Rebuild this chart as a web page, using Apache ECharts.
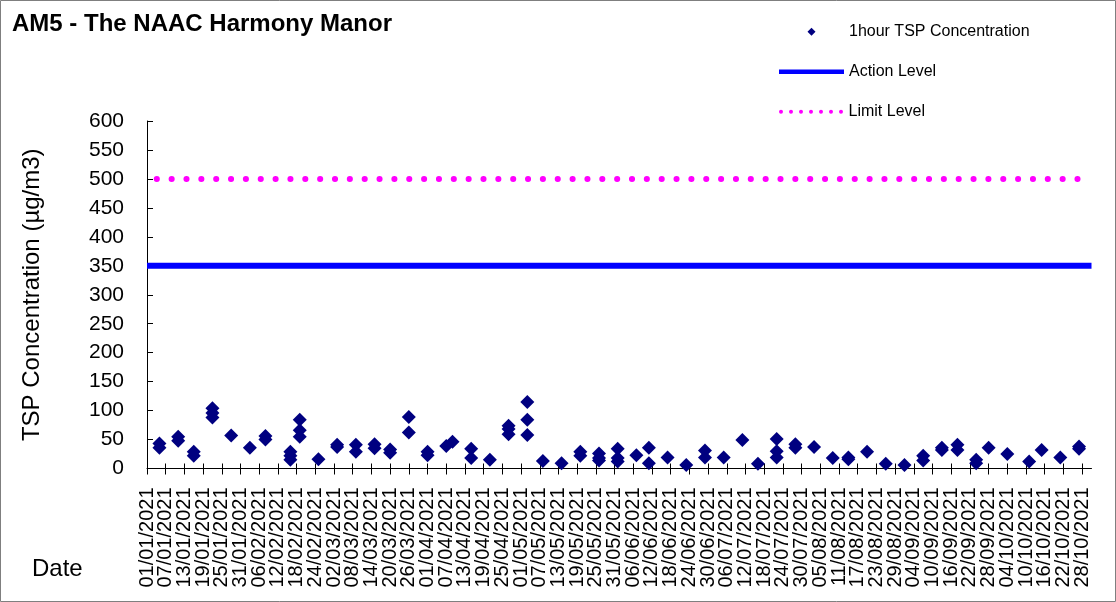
<!DOCTYPE html>
<html>
<head>
<meta charset="utf-8">
<script src="https://cdn.jsdelivr.net/npm/echarts@6/dist/echarts.min.js"></script>
<style>
html,body{margin:0;padding:0;background:#fff;}
#chart{width:1116px;height:602px;}
</style>
</head>
<body>
<div id="chart"></div>
<script>
// ---- data ----
var TITLE = 'AM5 - The NAAC Harmony Manor';
var Y_NAME = 'TSP Concentration (\u00b5g/m3)';
var X_NAME = 'Date';
var SERIES_NAMES = ['1hour TSP Concentration', 'Action Level', 'Limit Level'];
var ACTION_LEVEL = 350;
var LIMIT_LEVEL = 500;
var AXIS_MIN_DATE = '01/01/2021';
var AXIS_MAX_DATE = '31/10/2021';

var TICK_LABELS = [
  '01/01/2021','07/01/2021','13/01/2021','19/01/2021','25/01/2021','31/01/2021',
  '06/02/2021','12/02/2021','18/02/2021','24/02/2021','02/03/2021','08/03/2021',
  '14/03/2021','20/03/2021','26/03/2021','01/04/2021','07/04/2021','13/04/2021',
  '19/04/2021','25/04/2021','01/05/2021','07/05/2021','13/05/2021','19/05/2021',
  '25/05/2021','31/05/2021','06/06/2021','12/06/2021','18/06/2021','24/06/2021',
  '30/06/2021','06/07/2021','12/07/2021','18/07/2021','24/07/2021','30/07/2021',
  '05/08/2021','11/08/2021','17/08/2021','23/08/2021','29/08/2021','04/09/2021',
  '10/09/2021','16/09/2021','22/09/2021','28/09/2021','04/10/2021','10/10/2021',
  '16/10/2021','22/10/2021','28/10/2021'
];

var SAMPLE_DATES = [
  '05/01/2021','05/01/2021','11/01/2021','11/01/2021','16/01/2021','16/01/2021',
  '22/01/2021','22/01/2021','22/01/2021','28/01/2021','03/02/2021','08/02/2021','08/02/2021',
  '16/02/2021','16/02/2021','16/02/2021','19/02/2021','19/02/2021','19/02/2021','25/02/2021',
  '03/03/2021','03/03/2021','09/03/2021','09/03/2021','15/03/2021','15/03/2021',
  '20/03/2021','20/03/2021','26/03/2021','26/03/2021','01/04/2021','01/04/2021',
  '07/04/2021','09/04/2021','15/04/2021','15/04/2021','21/04/2021',
  '27/04/2021','27/04/2021','27/04/2021','03/05/2021','03/05/2021','03/05/2021',
  '08/05/2021','14/05/2021','20/05/2021','20/05/2021','26/05/2021','26/05/2021','26/05/2021',
  '01/06/2021','01/06/2021','01/06/2021','07/06/2021','11/06/2021','11/06/2021',
  '17/06/2021','23/06/2021','29/06/2021','29/06/2021','05/07/2021','11/07/2021','16/07/2021',
  '22/07/2021','22/07/2021','22/07/2021','28/07/2021','28/07/2021','03/08/2021',
  '09/08/2021','14/08/2021','14/08/2021','20/08/2021','26/08/2021','01/09/2021',
  '07/09/2021','07/09/2021','13/09/2021','13/09/2021','18/09/2021','18/09/2021',
  '24/09/2021','24/09/2021','28/09/2021','04/10/2021','11/10/2021','15/10/2021',
  '21/10/2021','27/10/2021','27/10/2021'
];
var TSP_VALUES = [
  43, 36, 55, 48, 29, 22,
  104, 96, 88, 57, 36, 56, 50,
  29, 22, 15, 84, 66, 55, 16,
  41, 37, 41, 29, 42, 35,
  33, 27, 89, 62, 29, 23,
  39, 46, 34, 18, 15,
  74, 68, 59, 115, 84, 58,
  13, 9, 29, 22, 26, 18, 14,
  34, 18, 12, 23, 36, 9,
  19, 6, 31, 19, 19, 49, 8,
  51, 30, 19, 42, 36, 37,
  18, 19, 16, 29, 8, 6,
  22, 14, 36, 32, 41, 32,
  15, 9, 36, 25, 12, 32,
  19, 38, 34
];

// ---- helpers ----
function dayOf(s) {
  var p = s.split('/');
  var t = Date.UTC(+p[2], +p[1] - 1, +p[0]);
  var a = AXIS_MIN_DATE.split('/');
  var t0 = Date.UTC(+a[2], +a[1] - 1, +a[0]);
  return Math.round((t - t0) / 86400000);
}
var tickDays = TICK_LABELS.map(dayOf);
var labelMap = {};
tickDays.forEach(function (d, i) { labelMap[d] = TICK_LABELS[i]; });
var evenDays = tickDays.filter(function (d, i) { return i % 2 === 0; });
var oddDays = tickDays.filter(function (d, i) { return i % 2 === 1; });
var xMin = dayOf(AXIS_MIN_DATE), xMax = dayOf(AXIS_MAX_DATE);

var scatterData = SAMPLE_DATES.map(function (d, i) { return [dayOf(d), TSP_VALUES[i]]; });

var FONT = "'Liberation Sans', Arial, sans-serif";

// legend icons: full-width boxes with the mark drawn in the middle
var diamondIcon = 'path://M0,4L0,4ZM28.5,4L32.5,0L36.5,4L32.5,8ZM65,4L65,4Z';
var dotsIcon = 'path://';
for (var k = 0; k < 7; k++) {
  var cx = 2 + 10 * k;
  dotsIcon += 'M' + (cx - 2) + ',2a2,2 0 1,0 4,0a2,2 0 1,0 -4,0Z';
}

function xLabel(values) {
  return {show: true, rotate: 90, margin: 19, customValues: values,
    showMinLabel: true, showMaxLabel: true, hideOverlap: false,
    fontFamily: FONT, fontSize: 20, color: '#000',
    formatter: function (v) { return labelMap[Math.round(v)] || ''; }};
}

var chart = echarts.init(document.getElementById('chart'), null, {renderer: 'canvas'});
var option = {
  backgroundColor: '#fff',
  animation: false,
  title: [
    {text: TITLE, left: 12, top: 12.6, padding: 0,
     textStyle: {fontFamily: FONT, fontSize: 24, fontWeight: 'bold', color: '#000', lineHeight: 24}},
    {text: X_NAME, left: 32, top: 557.5, padding: 0,
     textStyle: {fontFamily: FONT, fontSize: 24, fontWeight: 'normal', color: '#000', lineHeight: 24}}
  ],
  graphic: [
    {type: 'rect', shape: {x: 0.5, y: 0.5, width: 1115, height: 601},
     style: {fill: 'none', stroke: '#7f7f7f', lineWidth: 1}, silent: true}
  ],
  legend: [
    {data: [{name: SERIES_NAMES[0], icon: diamondIcon, itemStyle: {color: '#000080', opacity: 1}}],
     left: 779, top: 23.7, padding: 0, itemWidth: 65, itemHeight: 8, symbolKeepAspect: false,
     textStyle: {fontFamily: FONT, fontSize: 16, color: '#000', lineHeight: 16}},
    {data: [{name: SERIES_NAMES[1], icon: 'rect', itemStyle: {color: '#0000FF'}}],
     left: 779, top: 63.7, padding: 0, itemWidth: 65, itemHeight: 4.5,
     textStyle: {fontFamily: FONT, fontSize: 16, color: '#000', lineHeight: 16}},
    {data: [{name: SERIES_NAMES[2], icon: dotsIcon, itemStyle: {color: '#FF00FF'}}],
     left: 779, top: 103.7, padding: 0, itemWidth: 65, itemHeight: 4, symbolKeepAspect: true,
     textStyle: {fontFamily: FONT, fontSize: 16, color: '#000', lineHeight: 16}}
  ],
  grid: {left: 147, right: 24.5, top: 121, bottom: 133.5, containLabel: false},
  xAxis: [
    {type: 'value', min: xMin, max: xMax, position: 'bottom',
     axisLine: {show: true, lineStyle: {color: '#000', width: 1}},
     axisTick: {show: true, inside: false, length: 6, customValues: tickDays, lineStyle: {color: '#000'}},
     axisLabel: xLabel(evenDays),
     splitLine: {show: false}},
    {type: 'value', min: xMin, max: xMax, position: 'bottom', offset: 0,
     axisLine: {show: false},
     axisTick: {show: true, inside: true, length: 5, customValues: tickDays, lineStyle: {color: '#000'}},
     axisLabel: xLabel(oddDays),
     splitLine: {show: false}}
  ],
  yAxis: {
    type: 'value', min: 0, max: 600, interval: 50,
    name: Y_NAME, nameLocation: 'middle', nameGap: 103,
    nameTextStyle: {fontFamily: FONT, fontSize: 24, color: '#000'},
    axisLine: {show: true, lineStyle: {color: '#000', width: 1}},
    axisTick: {show: true, inside: true, length: 6, lineStyle: {color: '#000'}},
    axisLabel: {margin: 23, fontFamily: FONT, fontSize: 21, color: '#000'},
    splitLine: {show: false}
  },
  series: [
    {name: SERIES_NAMES[0], type: 'scatter', xAxisIndex: 0, data: scatterData,
     symbol: 'diamond', symbolSize: 14, itemStyle: {color: '#000080', opacity: 1}, z: 5},
    {name: SERIES_NAMES[1], type: 'line', xAxisIndex: 0, symbol: 'none',
     data: [[xMin, ACTION_LEVEL], [xMax, ACTION_LEVEL]],
     lineStyle: {color: '#0000FF', width: 6}, itemStyle: {color: '#0000FF'}, z: 3},
    {name: SERIES_NAMES[2], type: 'line', xAxisIndex: 0, symbol: 'none',
     data: [[xMin, LIMIT_LEVEL], [xMax, LIMIT_LEVEL]],
     lineStyle: {color: '#FF00FF', width: 6, type: [0.1, 14.75], dashOffset: 5.1, cap: 'round'},
     itemStyle: {color: '#FF00FF'}, z: 3}
  ]
};
chart.setOption(option);
</script>
</body>
</html>
